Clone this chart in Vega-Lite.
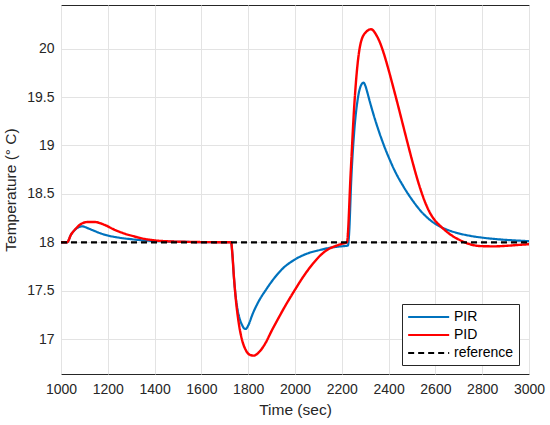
{
  "$schema": "https://vega.github.io/schema/vega-lite/v6.json",
  "width": 468,
  "height": 369,
  "autosize": {"type": "none"},
  "padding": {"left": 61, "top": 5, "right": 21, "bottom": 51},
  "background": "white",
  "config": {
    "font": "Liberation Sans",
    "view": {"stroke": "#262626", "strokeWidth": 1},
    "axis": {
      "labelFont": "Liberation Sans",
      "labelFontSize": 14,
      "labelColor": "#262626",
      "labelFlush": false,
      "labelOverlap": false,
      "titleFont": "Liberation Sans",
      "titleFontSize": 15.5,
      "titleFontWeight": "normal",
      "titleColor": "#262626",
      "gridColor": "#e3e3e3",
      "gridWidth": 1,
      "domain": false,
      "ticks": false
    }
  },
  "data": {
    "values": [
      {"t": 1000, "T": 18, "s": "PIR"},
      {"t": 1026, "T": 18, "s": "PIR"},
      {"t": 1043, "T": 18.08, "s": "PIR"},
      {"t": 1058, "T": 18.125, "s": "PIR"},
      {"t": 1075, "T": 18.155, "s": "PIR"},
      {"t": 1090, "T": 18.165, "s": "PIR"},
      {"t": 1100, "T": 18.16, "s": "PIR"},
      {"t": 1115, "T": 18.145, "s": "PIR"},
      {"t": 1140, "T": 18.12, "s": "PIR"},
      {"t": 1160, "T": 18.1, "s": "PIR"},
      {"t": 1200, "T": 18.07, "s": "PIR"},
      {"t": 1250, "T": 18.047, "s": "PIR"},
      {"t": 1300, "T": 18.032, "s": "PIR"},
      {"t": 1350, "T": 18.02, "s": "PIR"},
      {"t": 1400, "T": 18.013, "s": "PIR"},
      {"t": 1450, "T": 18.008, "s": "PIR"},
      {"t": 1500, "T": 18.005, "s": "PIR"},
      {"t": 1600, "T": 18.002, "s": "PIR"},
      {"t": 1727, "T": 18.0, "s": "PIR"},
      {"t": 1732, "T": 17.89, "s": "PIR"},
      {"t": 1739, "T": 17.64, "s": "PIR"},
      {"t": 1746, "T": 17.45, "s": "PIR"},
      {"t": 1755, "T": 17.3, "s": "PIR"},
      {"t": 1765, "T": 17.2, "s": "PIR"},
      {"t": 1775, "T": 17.14, "s": "PIR"},
      {"t": 1783, "T": 17.11, "s": "PIR"},
      {"t": 1790, "T": 17.105, "s": "PIR"},
      {"t": 1800, "T": 17.14, "s": "PIR"},
      {"t": 1819, "T": 17.26, "s": "PIR"},
      {"t": 1847, "T": 17.4, "s": "PIR"},
      {"t": 1876, "T": 17.51, "s": "PIR"},
      {"t": 1905, "T": 17.61, "s": "PIR"},
      {"t": 1948, "T": 17.73, "s": "PIR"},
      {"t": 1998, "T": 17.82, "s": "PIR"},
      {"t": 2048, "T": 17.88, "s": "PIR"},
      {"t": 2106, "T": 17.92, "s": "PIR"},
      {"t": 2149, "T": 17.943, "s": "PIR"},
      {"t": 2192, "T": 17.957, "s": "PIR"},
      {"t": 2226, "T": 17.965, "s": "PIR"},
      {"t": 2232, "T": 18.12, "s": "PIR"},
      {"t": 2240, "T": 18.62, "s": "PIR"},
      {"t": 2253, "T": 19.14, "s": "PIR"},
      {"t": 2267, "T": 19.46, "s": "PIR"},
      {"t": 2283, "T": 19.625, "s": "PIR"},
      {"t": 2293, "T": 19.648, "s": "PIR"},
      {"t": 2300, "T": 19.62, "s": "PIR"},
      {"t": 2310, "T": 19.54, "s": "PIR"},
      {"t": 2320, "T": 19.45, "s": "PIR"},
      {"t": 2330, "T": 19.365, "s": "PIR"},
      {"t": 2345, "T": 19.245, "s": "PIR"},
      {"t": 2360, "T": 19.135, "s": "PIR"},
      {"t": 2380, "T": 19.0, "s": "PIR"},
      {"t": 2400, "T": 18.88, "s": "PIR"},
      {"t": 2430, "T": 18.72, "s": "PIR"},
      {"t": 2460, "T": 18.59, "s": "PIR"},
      {"t": 2500, "T": 18.44, "s": "PIR"},
      {"t": 2550, "T": 18.29, "s": "PIR"},
      {"t": 2600, "T": 18.19, "s": "PIR"},
      {"t": 2650, "T": 18.13, "s": "PIR"},
      {"t": 2700, "T": 18.092, "s": "PIR"},
      {"t": 2750, "T": 18.066, "s": "PIR"},
      {"t": 2800, "T": 18.048, "s": "PIR"},
      {"t": 2850, "T": 18.035, "s": "PIR"},
      {"t": 2900, "T": 18.025, "s": "PIR"},
      {"t": 2950, "T": 18.018, "s": "PIR"},
      {"t": 3000, "T": 18.012, "s": "PIR"},

      {"t": 1000, "T": 18, "s": "PID"},
      {"t": 1026, "T": 18, "s": "PID"},
      {"t": 1043, "T": 18.08, "s": "PID"},
      {"t": 1065, "T": 18.145, "s": "PID"},
      {"t": 1086, "T": 18.19, "s": "PID"},
      {"t": 1115, "T": 18.21, "s": "PID"},
      {"t": 1143, "T": 18.21, "s": "PID"},
      {"t": 1186, "T": 18.18, "s": "PID"},
      {"t": 1228, "T": 18.13, "s": "PID"},
      {"t": 1271, "T": 18.09, "s": "PID"},
      {"t": 1314, "T": 18.06, "s": "PID"},
      {"t": 1357, "T": 18.035, "s": "PID"},
      {"t": 1400, "T": 18.02, "s": "PID"},
      {"t": 1456, "T": 18.01, "s": "PID"},
      {"t": 1528, "T": 18.005, "s": "PID"},
      {"t": 1600, "T": 18.002, "s": "PID"},
      {"t": 1727, "T": 18.0, "s": "PID"},
      {"t": 1732, "T": 17.89, "s": "PID"},
      {"t": 1739, "T": 17.64, "s": "PID"},
      {"t": 1746, "T": 17.44, "s": "PID"},
      {"t": 1760, "T": 17.16, "s": "PID"},
      {"t": 1774, "T": 16.99, "s": "PID"},
      {"t": 1789, "T": 16.89, "s": "PID"},
      {"t": 1810, "T": 16.835, "s": "PID"},
      {"t": 1824, "T": 16.83, "s": "PID"},
      {"t": 1846, "T": 16.865, "s": "PID"},
      {"t": 1874, "T": 16.96, "s": "PID"},
      {"t": 1900, "T": 17.085, "s": "PID"},
      {"t": 1930, "T": 17.22, "s": "PID"},
      {"t": 1960, "T": 17.35, "s": "PID"},
      {"t": 2000, "T": 17.51, "s": "PID"},
      {"t": 2034, "T": 17.64, "s": "PID"},
      {"t": 2077, "T": 17.78, "s": "PID"},
      {"t": 2113, "T": 17.875, "s": "PID"},
      {"t": 2140, "T": 17.925, "s": "PID"},
      {"t": 2177, "T": 17.965, "s": "PID"},
      {"t": 2200, "T": 17.984, "s": "PID"},
      {"t": 2222, "T": 18.0, "s": "PID"},
      {"t": 2238, "T": 18.72, "s": "PID"},
      {"t": 2253, "T": 19.4, "s": "PID"},
      {"t": 2267, "T": 19.83, "s": "PID"},
      {"t": 2281, "T": 20.06, "s": "PID"},
      {"t": 2303, "T": 20.17, "s": "PID"},
      {"t": 2325, "T": 20.2, "s": "PID"},
      {"t": 2335, "T": 20.185, "s": "PID"},
      {"t": 2345, "T": 20.15, "s": "PID"},
      {"t": 2360, "T": 20.08, "s": "PID"},
      {"t": 2374, "T": 19.99, "s": "PID"},
      {"t": 2387, "T": 19.89, "s": "PID"},
      {"t": 2400, "T": 19.78, "s": "PID"},
      {"t": 2420, "T": 19.6, "s": "PID"},
      {"t": 2440, "T": 19.415, "s": "PID"},
      {"t": 2460, "T": 19.225, "s": "PID"},
      {"t": 2480, "T": 19.035, "s": "PID"},
      {"t": 2500, "T": 18.85, "s": "PID"},
      {"t": 2520, "T": 18.675, "s": "PID"},
      {"t": 2540, "T": 18.52, "s": "PID"},
      {"t": 2560, "T": 18.39, "s": "PID"},
      {"t": 2580, "T": 18.29, "s": "PID"},
      {"t": 2600, "T": 18.22, "s": "PID"},
      {"t": 2627, "T": 18.155, "s": "PID"},
      {"t": 2661, "T": 18.085, "s": "PID"},
      {"t": 2697, "T": 18.032, "s": "PID"},
      {"t": 2720, "T": 18.005, "s": "PID"},
      {"t": 2750, "T": 17.978, "s": "PID"},
      {"t": 2800, "T": 17.96, "s": "PID"},
      {"t": 2850, "T": 17.958, "s": "PID"},
      {"t": 2900, "T": 17.963, "s": "PID"},
      {"t": 2950, "T": 17.972, "s": "PID"},
      {"t": 3000, "T": 17.98, "s": "PID"},

      {"t": 1000, "T": 18, "s": "reference"},
      {"t": 3000, "T": 18, "s": "reference"}
    ]
  },
  "encoding": {
    "x": {
      "field": "t", "type": "quantitative",
      "scale": {"domain": [1000, 3000], "nice": false},
      "axis": {"values": [1000, 1200, 1400, 1600, 1800, 2000, 2200, 2400, 2600, 2800, 3000], "format": "d", "title": "Time (sec)", "titlePadding": 6, "labelPadding": 8}
    },
    "y": {
      "field": "T", "type": "quantitative",
      "scale": {"domain": [16.64, 20.45], "nice": false, "zero": false},
      "axis": {"values": [17, 17.5, 18, 18.5, 19, 19.5, 20], "format": ".1~f", "title": "Temperature (° C)", "titlePadding": 8, "labelPadding": 7}
    },
    "color": {
      "field": "s", "type": "nominal",
      "scale": {"domain": ["PIR", "PID", "reference"], "range": ["#0072BD", "#FF0000", "#000000"]},
      "legend": {
        "title": null, "orient": "none", "legendX": 341, "legendY": 299,
        "fillColor": "white", "strokeColor": "#262626", "padding": 5,
        "symbolType": "M-1,0H5", "symbolSize": 187, "symbolStrokeWidth": 2,
        "labelOffset": 31, "labelFontSize": 14, "labelFont": "Liberation Sans", "labelColor": "black", "rowPadding": 3
      }
    },
    "strokeDash": {
      "field": "s", "type": "nominal",
      "scale": {"domain": ["PIR", "PID", "reference"], "range": [[1, 0], [1, 0], [6, 4]]},
      "legend": {
        "title": null, "orient": "none", "legendX": 341, "legendY": 299,
        "fillColor": "white", "strokeColor": "#262626", "padding": 5,
        "symbolType": "M-1,0H5", "symbolSize": 187, "symbolStrokeWidth": 2,
        "labelOffset": 31, "labelFontSize": 14, "labelFont": "Liberation Sans", "labelColor": "black", "rowPadding": 3
      }
    }
  },
  "layer": [
    {"transform": [{"filter": "datum.s === 'PIR'"}], "mark": {"type": "line", "strokeWidth": 2.2, "interpolate": "monotone"}},
    {"transform": [{"filter": "datum.s === 'PID'"}], "mark": {"type": "line", "strokeWidth": 2.4, "interpolate": "monotone"}},
    {"transform": [{"filter": "datum.s === 'reference'"}], "mark": {"type": "line", "strokeWidth": 2.2}}
  ]
}
